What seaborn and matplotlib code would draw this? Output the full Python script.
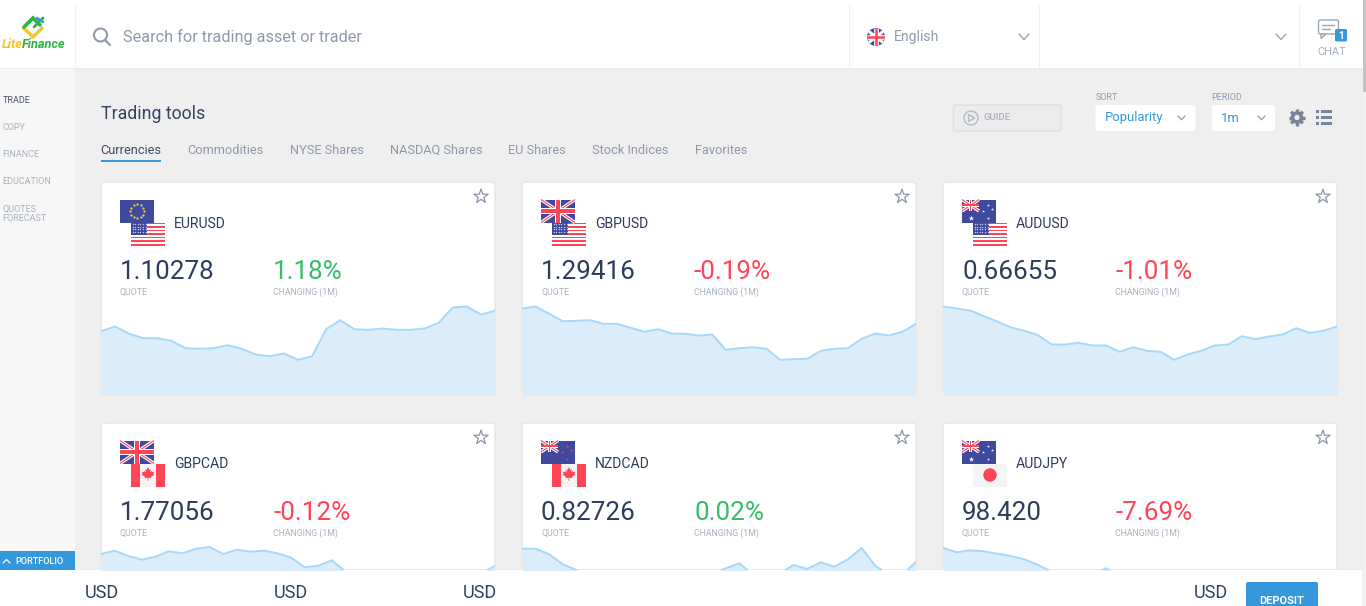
import numpy as np
import pandas as pd
import matplotlib
matplotlib.use('Agg')
import matplotlib.pyplot as plt
import seaborn as sns
from matplotlib.patches import Rectangle, Circle, FancyBboxPatch, Polygon

sns.set_theme(style='white')
plt.rcParams['font.family'] = ['Roboto', 'DejaVu Sans']

W, H = 1366, 606

pairs = ['EURUSD', 'GBPUSD', 'AUDUSD', 'GBPCAD', 'NZDCAD', 'AUDJPY']
quotes = ['1.10278', '1.29416', '0.66655', '1.77056', '0.82726', '98.420']
changes = ['1.18%', '-0.19%', '-1.01%', '-0.12%', '0.02%', '-7.69%']
first_flags = ['eu', 'gb', 'au', 'gb', 'nz', 'au']
second_flags = ['us', 'us', 'us', 'ca', 'ca', 'jp']

# chart heights, px above the bottom of the card. row 2 is mostly behind the footer
eurusd = [63.3, 68, 60.7, 56.3, 56.3, 53.7, 46.3, 45.7, 46.3, 49.3, 45.7, 40, 38.3, 41, 34.7,
          38.3, 65.3, 74.3, 65.3, 64.7, 66, 64.7, 64.7, 66, 71.7, 87, 88, 80, 83.7]
gbpusd = [86, 88, 80.7, 73.3, 73.7, 74.3, 70.7, 70.7, 66.7, 62.7, 65.3, 61, 60.7, 59, 60,
          44.7, 46.3, 47.3, 45.7, 34.7, 35.3, 35.7, 43.7, 45.7, 46.3, 55.7, 61, 59, 62.7, 70.7]
audusd = [88, 86, 84, 78.3, 73, 67, 63.7, 59.3, 50, 50, 51.7, 49, 49, 42.7, 47.3,
          43.7, 42.7, 34.7, 40, 43.7, 49, 50, 58.3, 55.3, 58, 60, 66.3, 61.7, 63.7, 68]
gbpcad = [81, 84.3, 79, 75.3, 78.3, 83.7, 81.7, 86.3, 88, 81, 85.3, 83.3, 84.3, 81.7, 77.3,
          67.7, 69.3, 74.7, 63.3, 58, 52, 48, 45, 44, 47, 50, 54, 58, 62, 69]
nzdcad = [86.3, 86.3, 80.7, 70.7, 65, 60, 58, 55, 52, 50, 48, 50, 54, 58, 62,
          66.7, 71.7, 60, 58, 62, 70, 66, 72.7, 68.3, 75.7, 87, 69.3, 60, 60, 73.3]
audjpy = [87.3, 82.7, 84.7, 83.7, 81.3, 79, 75.7, 70, 63.3, 60, 58, 60, 66.7, 60, 56,
          50, 48, 46, 44, 46, 48, 50, 48, 50, 52, 50, 52, 50, 52, 54]
series = [eurusd, gbpusd, audusd, gbpcad, nzdcad, audjpy]

tabs = ['Currencies', 'Commodities', 'NYSE Shares', 'NASDAQ Shares', 'EU Shares', 'Stock Indices', 'Favorites']
tab_x = [100.5, 187.5, 290, 390, 508, 592.5, 695]
nav_items = ['TRADE', 'COPY', 'FINANCE', 'EDUCATION', 'QUOTES\nFORECAST']
nav_y = [100, 127, 154, 181, 213.5]
usd_x = [85, 274, 463, 1194]

NAVY = '#2c3c5c'
GREY = '#8e9aac'
LIGHT = '#a9b1bf'
BLUE = '#3498db'
GREEN = '#35bd68'
RED = '#ff4455'
FLAG_BLUE = '#3f4a9f'
FLAG_RED = '#ff4455'

fig = plt.figure(figsize=(W / 100, H / 100), dpi=100, facecolor='#efefef')
ax = fig.add_axes([0, 0, 1, 1])
ax.set_xlim(0, W)
ax.set_ylim(H, 0)
ax.axis('off')


def rect(x, y, w, h, color, z=1, **kw):
    ax.add_patch(Rectangle((x, y), w, h, facecolor=color, edgecolor='none', zorder=z, **kw))


def rbox(x, y, w, h, face, edge='none', r=3, z=1, lw=1):
    ax.add_patch(FancyBboxPatch((x + r, y + r), w - 2 * r, h - 2 * r, boxstyle=f'round,pad={r},rounding_size={r}',
                                facecolor=face, edgecolor=edge, linewidth=lw, zorder=z))


def label(x, y, s, px, color, z=5, **kw):
    kw.setdefault('va', 'center')
    ax.text(x, y + 1, s, fontsize=px * 0.72, color=color, zorder=z, **kw)


def chevron(x, y, color='#9aa5b4', size=5):
    ax.plot([x - size, x, x + size], [y - size * 0.6, y + size * 0.5, y - size * 0.6], color=color, lw=1, zorder=5)


def union_jack(x, y, w, h, z):
    rect(x, y, w, h, FLAG_BLUE, z)
    ax.plot([x, x + w], [y, y + h], color='white', lw=2.4, zorder=z, solid_capstyle='butt')
    ax.plot([x, x + w], [y + h, y], color='white', lw=2.4, zorder=z, solid_capstyle='butt')
    ax.plot([x, x + w], [y, y + h], color=FLAG_RED, lw=0.8, zorder=z, solid_capstyle='butt')
    ax.plot([x, x + w], [y + h, y], color=FLAG_RED, lw=0.8, zorder=z, solid_capstyle='butt')
    rect(x + w * 0.41, y, w * 0.18, h, 'white', z)
    rect(x, y + h * 0.37, w, h * 0.26, 'white', z)
    rect(x + w * 0.45, y, w * 0.1, h, FLAG_RED, z)
    rect(x, y + h * 0.42, w, h * 0.16, FLAG_RED, z)


def maple_leaf(cx, cy, scale, z):
    right = [(0, 1), (0.18, 0.62), (0.35, 0.72), (0.28, 0.3), (0.48, 0.48), (0.55, 0.32), (0.85, 0.38),
             (0.72, 0.08), (0.85, 0), (0.4, -0.32), (0.45, -0.5), (0.05, -0.42), (0.05, -0.85)]
    left = [(-a, b) for a, b in reversed(right[1:])]
    pts = [[cx + a * scale, cy - b * scale] for a, b in right + left]
    ax.add_patch(Polygon(pts, facecolor=FLAG_RED, edgecolor='none', zorder=z))


def flag(code, x, y, w=34, h=23, z=3):
    if code == 'eu':
        rect(x, y, w, h, FLAG_BLUE, z)
        t = np.deg2rad(np.arange(0, 360, 30))
        ax.scatter(x + w / 2 + 7 * np.cos(t), y + h / 2 + 7 * np.sin(t), s=2.5, color='#f4d33f', zorder=z, linewidths=0)
    elif code == 'us':
        rect(x, y, w, h, 'white', z)
        for i in range(7):
            rect(x, y + i * h / 6.5, w, h / 13, FLAG_RED, z)
        rect(x, y, w * 0.46, h * 0.54, FLAG_BLUE, z)
        for i in range(6):
            for j in range(4):
                ax.scatter(x + 1.5 + i * 2.6, y + 1.5 + j * 2.7, s=1, color='#c9cbe6', zorder=z, linewidths=0)
    elif code == 'gb':
        union_jack(x, y, w, h, z)
    elif code in ('au', 'nz'):
        rect(x, y, w, h, FLAG_BLUE, z)
        union_jack(x, y, w / 2, h / 2, z)
        star = 'white' if code == 'au' else FLAG_RED
        for fx, fy in [(0.75, 0.22), (0.63, 0.5), (0.88, 0.42), (0.76, 0.82)]:
            ax.scatter(x + fx * w, y + fy * h, s=5, marker='*', color=star, zorder=z, linewidths=0)
        if code == 'au':
            ax.scatter(x + 0.25 * w, y + 0.8 * h, s=16, marker='*', color='white', zorder=z, linewidths=0)
    elif code == 'ca':
        rect(x, y, w, h, '#f3f4f4', z)
        rect(x, y, w * 0.27, h, FLAG_RED, z)
        rect(x + w * 0.73, y, w * 0.27, h, FLAG_RED, z)
        maple_leaf(x + w / 2, y + h / 2 - 0.5, 7.5, z)
    elif code == 'jp':
        rect(x, y, w, h, '#f3f4f4', z)
        ax.add_patch(Circle((x + w / 2, y + h / 2), 6.7, facecolor=FLAG_RED, edgecolor='none', zorder=z))


def card(i):
    col, row = i % 3, i // 3
    cx = [101, 522, 943][col]
    top = [182, 423][row]
    cw = 394
    rbox(cx, top, cw, 212.5, 'white', edge='#e6e6e6', r=4)

    flag(first_flags[i], cx + 19, top + 17.5)
    flag(second_flags[i], cx + 30, top + 40.5, z=2)
    label(cx + 73, top + 40.5, pairs[i], 14, NAVY)
    label(cx + 19, top + 89, quotes[i], 26, NAVY)
    label(cx + 19, top + 109, 'QUOTE', 8.8, LIGHT)
    color = RED if changes[i].startswith('-') else GREEN
    label(cx + 172, top + 89, changes[i], 26, color)
    label(cx + 172, top + 109, 'CHANGING (1M)', 8.8, LIGHT)
    ax.scatter(cx + 380, top + 14.5, s=115, marker='*', facecolors='none', edgecolors='#8d97a8',
               linewidths=0.9, zorder=5)

    # chart axes: row 2 only has the strip above the footer
    low, high = (0, 104) if row == 0 else (65, 94)
    bottom_px = top + 212.5 if row == 0 else 570
    height_px = high - low
    chart = fig.add_axes([cx / W, 1 - bottom_px / H, cw / W, height_px / H], zorder=2)
    df = pd.DataFrame({'step': np.arange(len(series[i])), 'value': series[i]})
    chart.fill_between(df['step'], df['value'], low - 1, color='#dbedfb', linewidth=0)
    sns.lineplot(data=df, x='step', y='value', ax=chart, color='#a6d8f8', linewidth=1.4)
    chart.set_xlim(0, len(df) - 1)
    chart.set_ylim(low, high)
    chart.axis('off')


# page frame
rect(0, 0, 75, 570, '#f7f7f7', 0.5)
rect(0, 0, W, 68, 'white', 1)
rect(0, 68, W, 1, '#ececec', 1)
for x in [75, 848.5, 1039, 1298.5]:
    rect(x, 5, 1, 63, '#f0f0f0', 2)
rect(1362.5, 0, 3.5, H, '#f1f1f1', 1.5)
rect(1362.5, 0, 3.5, 92, '#c4c4c4', 1.6)

# logo
ax.plot([23.5, 33, 42], [28, 37, 28], color='#f6c428', lw=2.4, zorder=3, solid_joinstyle='miter')
ax.plot([24, 33, 40], [27, 18, 25], color='#2fb344', lw=2.6, zorder=3, solid_joinstyle='miter')
ax.plot([34, 43], [27, 18], color='#2fb344', lw=2, zorder=3)
ax.plot([37, 43], [18, 22], color='#3498db', lw=1.8, zorder=4)
ax.text(2, 44.5, 'Lite', fontsize=9.2, color='#f6c428', fontweight='bold', fontstyle='italic', va='center', zorder=3)
ax.text(22, 44.5, 'Finance', fontsize=9.2, color='#2fb344', fontweight='bold', fontstyle='italic', va='center', zorder=3)

# header
ax.add_patch(Circle((100.5, 35), 6.5, facecolor='none', edgecolor=GREY, linewidth=1.5, zorder=3))
ax.plot([105, 110], [40, 45], color=GREY, lw=1.6, zorder=3)
label(123, 35.5, 'Search for trading asset or trader', 16.2, GREY)

flag_clip = Circle((876, 37), 9, facecolor=FLAG_BLUE, edgecolor='none', zorder=3)
ax.add_patch(flag_clip)
for a, b, c, lw in [((867, 30), (885, 44), 'white', 2.2), ((867, 44), (885, 30), 'white', 2.2),
                    ((876, 28), (876, 46), 'white', 3.4), ((867, 37), (885, 37), 'white', 3.4),
                    ((876, 28), (876, 46), FLAG_RED, 1.8), ((867, 37), (885, 37), FLAG_RED, 1.8)]:
    line, = ax.plot([a[0], b[0]], [a[1], b[1]], color=c, lw=lw, zorder=3, solid_capstyle='butt')
    line.set_clip_path(flag_clip)
label(894, 36.5, 'English', 14, GREY)
chevron(1024, 37)
chevron(1281, 37)

rbox(1318.5, 20, 20, 14, 'white', edge='#9aa5b4', r=2, z=3)
ax.add_patch(Polygon([[1321, 34], [1321, 38.5], [1326, 34]], facecolor='white', edgecolor='#9aa5b4', lw=1, zorder=3))
ax.plot([1322, 1334], [25, 25], color='#9aa5b4', lw=1, zorder=3)
ax.plot([1322, 1330], [29, 29], color='#9aa5b4', lw=1, zorder=3)
rbox(1335, 29, 12, 12.5, BLUE, r=1.5, z=4)
label(1341, 35, '1', 10, 'white', z=6, ha='center', fontweight='bold')
label(1331.5, 51, 'CHAT', 11, LIGHT, ha='center')

# side menu
for name, y in zip(nav_items, nav_y):
    label(2.5, y - 0.5, name, 9, '#4b5568' if name == 'TRADE' else LIGHT, linespacing=1.05)

# title row
label(101, 113, 'Trading tools', 17.8, '#35445f')
for name, x in zip(tabs, tab_x):
    label(x, 149, name, 12.7, '#3c4a64' if name == 'Currencies' else GREY)
rect(101, 160, 60, 1.8, BLUE, 3)

# toolbar
rbox(953.5, 105, 107.5, 26, '#ececec', edge='#dfe2e7', r=2, lw=1.2)
ax.add_patch(Circle((971, 118), 7, facecolor='none', edgecolor='#b4bac5', linewidth=1, zorder=3))
ax.add_patch(Polygon([[968.5, 114.5], [968.5, 121.5], [974.5, 118]], facecolor='none', edgecolor='#b4bac5', lw=1, zorder=3))
label(984, 117, 'GUIDE', 9.5, LIGHT, fontweight='medium')
label(1095.5, 96, 'SORT', 9, GREY)
label(1211.5, 96, 'PERIOD', 9, GREY)
rbox(1095.5, 105, 100, 26, 'white', r=3)
rbox(1212, 105, 63, 26, 'white', r=3)
label(1105, 117, 'Popularity', 13, BLUE)
label(1221, 117, '1m', 13, BLUE)
chevron(1181.5, 118, size=3.5)
chevron(1261.5, 118, size=3.5)
# gear
for a in np.deg2rad(np.arange(0, 360, 45)):
    ax.plot([1297, 1297 + 8.3 * np.cos(a)], [117.5, 117.5 + 8.3 * np.sin(a)], color='#77849a', lw=2.4, zorder=3,
            solid_capstyle='butt')
ax.add_patch(Circle((1297, 117.5), 6.3, facecolor='#77849a', edgecolor='none', zorder=3))
ax.add_patch(Circle((1297, 117.5), 2.6, facecolor='#efefef', edgecolor='none', zorder=4))
for y in [111.5, 117.5, 123.5]:
    rect(1316, y - 1.5, 3, 3, '#77849a', 3)
    rect(1321, y - 1.5, 11, 3, '#77849a', 3)

for i in range(len(pairs)):
    card(i)

# footer
rect(0, 570, W - 4, 36, 'white', 4)
rect(0, 569, W - 4, 1, '#ececec', 4)
rect(0, 551, 75, 18.5, BLUE, 4)
ax.plot([3, 6.5, 10], [563, 559.5, 563], color='white', lw=0.9, zorder=5)
label(15, 560, 'PORTFOLIO', 9.2, 'white', fontweight='medium')
for x in usd_x:
    label(x, 592.5, 'USD', 18, '#2f4060', z=6)
ax.add_patch(FancyBboxPatch((1248, 584), 68, 40, boxstyle='round,pad=2,rounding_size=2', facecolor=BLUE,
                            edgecolor='none', zorder=5))
label(1282, 599.5, 'DEPOSIT', 11, 'white', z=6, ha='center', fontweight='bold')

fig.savefig('out.png', dpi=100, facecolor=fig.get_facecolor())
